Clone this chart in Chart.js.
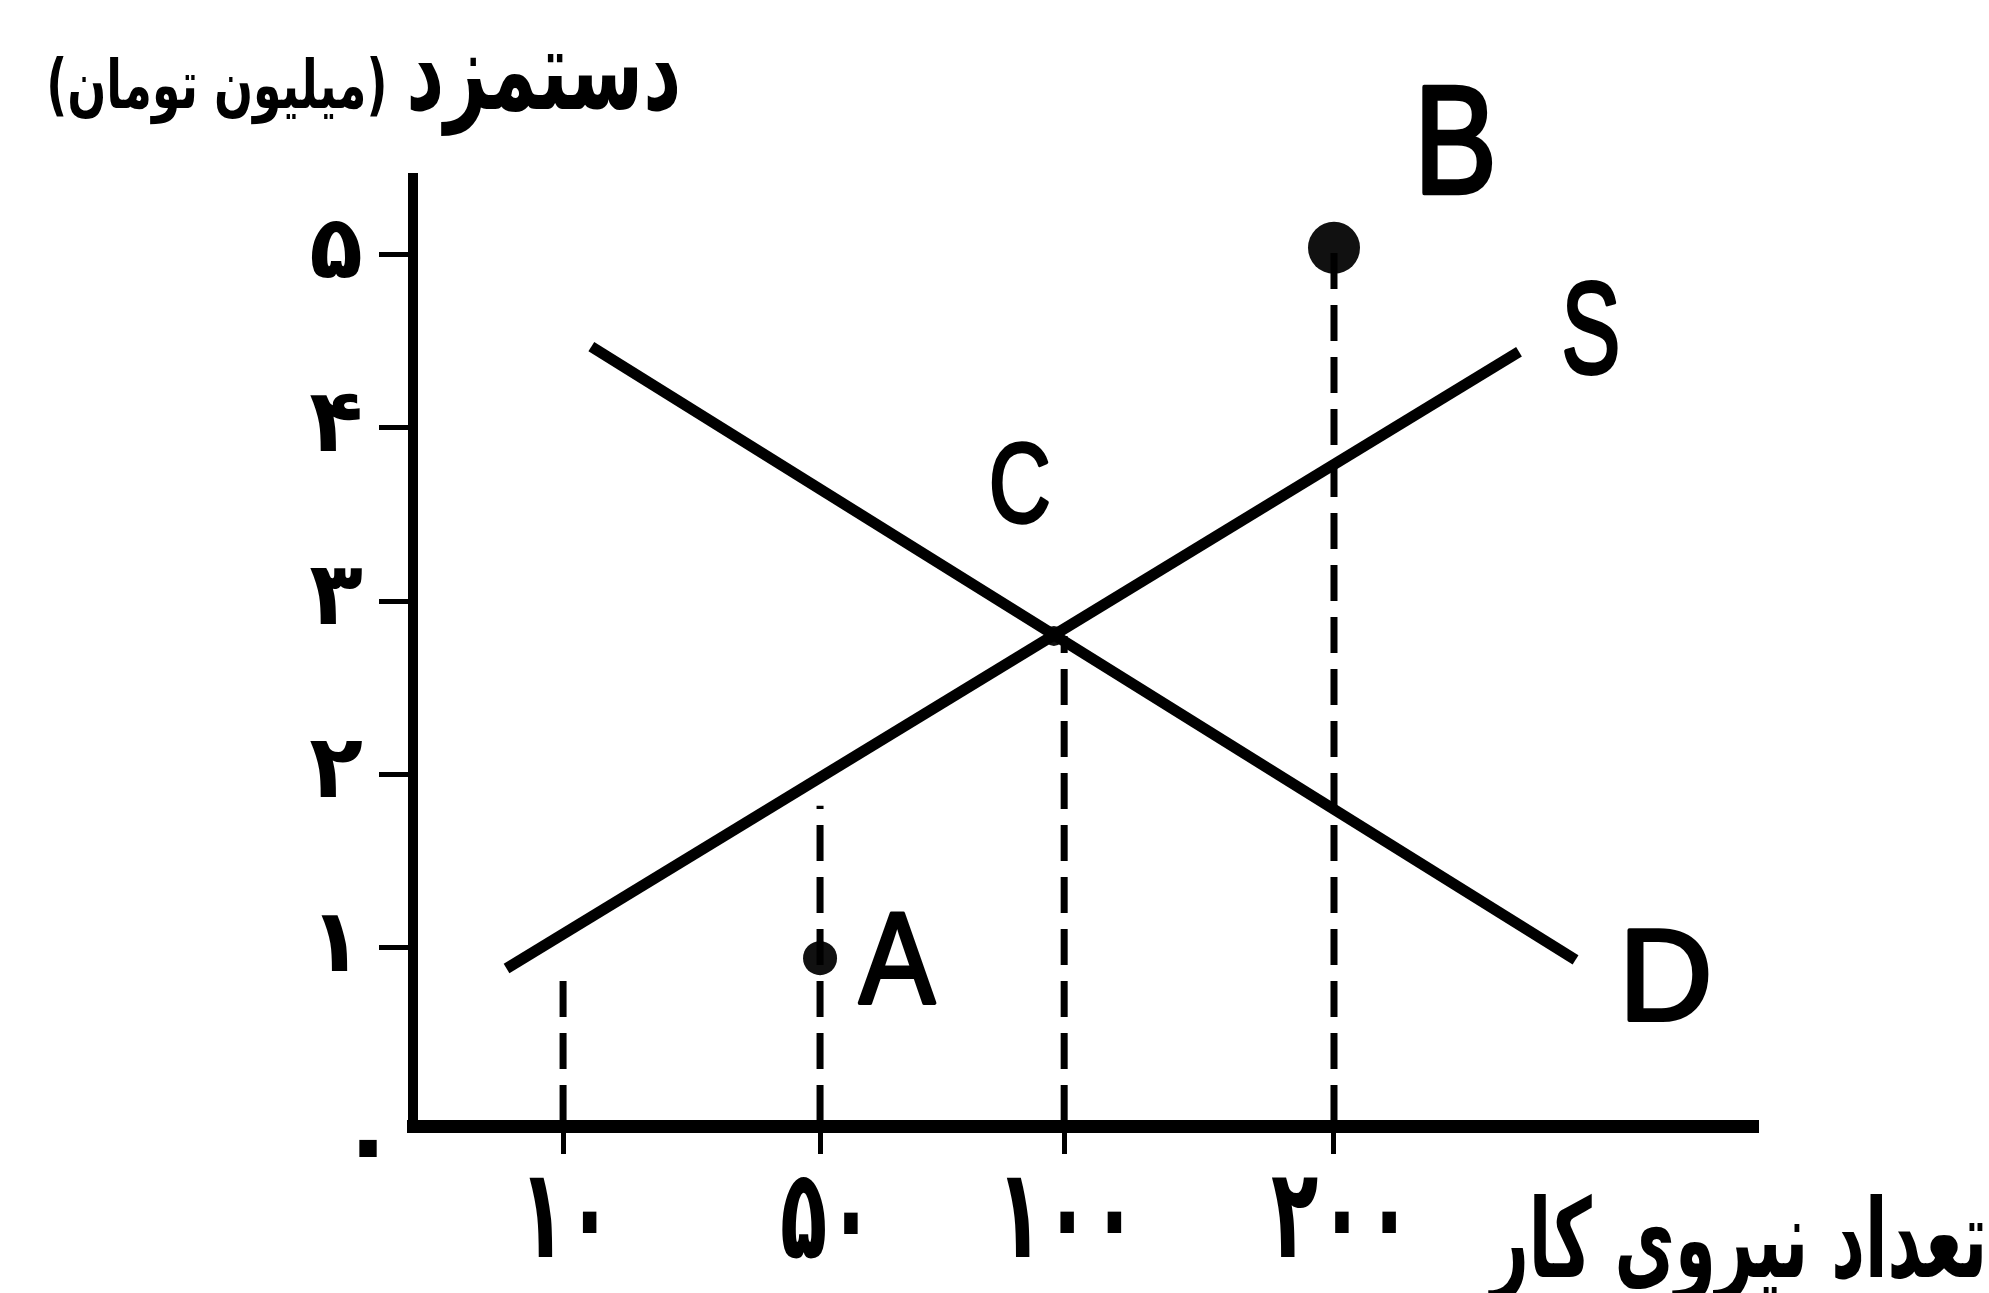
<!DOCTYPE html>
<html>
<head>
<meta charset="utf-8">
<script src="https://cdn.jsdelivr.net/npm/chart.js@4.4.1/dist/chart.umd.min.js"></script>
<style>
  html, body { margin: 0; padding: 0; background: #fff; }
  canvas { display: block; }
</style>
</head>
<body>
<canvas id="wageChart" width="1989" height="1293"></canvas>
<script>
// axis ticks (x ticks are not evenly spaced in value, so they sit on positions)
const xTickLabels = ['۱۰', '۵۰', '۱۰۰', '۲۰۰'];
const xTickPos = [1, 2, 2.95, 4];
const yTickValues = [1, 2, 3, 4, 5];
const yTickLabels = ['۱', '۲', '۳', '۴', '۵'];
const originLabel = '۰';

// supply (S) and demand (D) end points
const supplyX = [0.78, 4.72];
const supplyY = [0.88, 4.44];
const demandX = [1.11, 4.94];
const demandY = [4.47, 0.93];

// dashed guides from the x axis up
const guideX = [1, 2, 2.95, 4];
const guideTop = [0.9, 1.82, 2.8, 5.04];

// marked points A, B and the crossing
const dotX = [2, 4, 2.91];
const dotY = [0.94, 5.04, 2.8];
const dotSize = [17, 26, 10];

const yTitle = 'دستمزد';
const yTitleUnit = '(میلیون تومان)';
const xTitle = 'تعداد نیروی کار';

// letter labels: centre in chart units, ink size in px
const letters = [
    { text: 'B', x: 4.48, y: 5.66, w: 67, h: 106 },
    { text: 'S', x: 5.0, y: 4.58, w: 52, h: 93 },
    { text: 'C', x: 2.78, y: 3.68, w: 55, h: 80 },
    { text: 'D', x: 5.3, y: 0.84, w: 78, h: 90 },
    { text: 'A', x: 2.3, y: 0.94, w: 76, h: 90 }
];

const persianFont = "'DejaVu Sans', 'Noto Sans', sans-serif";
const latinFont = "'Liberation Sans', Arial, sans-serif";

function toPoints(xs, ys) {
    return xs.map((x, i) => ({ x: x, y: ys[i] }));
}

// draw text so that its ink fills the box x0..x1, y0..y1
function fitBox(ctx, text, font, x0, x1, y0, y1, rtl, stroke) {
    ctx.save();
    ctx.font = font;
    ctx.direction = rtl ? 'rtl' : 'ltr';
    ctx.textAlign = 'left';
    ctx.textBaseline = 'alphabetic';
    const m = ctx.measureText(text);
    const sx = (x1 - x0) / (m.actualBoundingBoxLeft + m.actualBoundingBoxRight);
    const sy = (y1 - y0) / (m.actualBoundingBoxAscent + m.actualBoundingBoxDescent);
    ctx.translate(x0 + m.actualBoundingBoxLeft * sx, y0 + m.actualBoundingBoxAscent * sy);
    ctx.scale(sx, sy);
    ctx.fillText(text, 0, 0);
    if (stroke) {
        ctx.strokeStyle = ctx.fillStyle;
        ctx.lineWidth = stroke;
        ctx.lineJoin = 'round';
        ctx.strokeText(text, 0, 0);
    }
    ctx.restore();
}

// same but the height is set by top of ink and the baseline
function fitAscent(ctx, text, font, x0, x1, top, baseline) {
    ctx.save();
    ctx.font = font;
    ctx.direction = 'rtl';
    ctx.textAlign = 'left';
    ctx.textBaseline = 'alphabetic';
    const m = ctx.measureText(text);
    const sx = (x1 - x0) / (m.actualBoundingBoxLeft + m.actualBoundingBoxRight);
    const sy = (baseline - top) / m.actualBoundingBoxAscent;
    ctx.translate(x0 + m.actualBoundingBoxLeft * sx, baseline);
    ctx.scale(sx, sy);
    ctx.fillText(text, 0, 0);
    ctx.restore();
}

// text centred on cx, ink top at `top`, squeezed by sx
function drawInk(ctx, text, font, cx, top, sx) {
    ctx.save();
    ctx.font = font;
    ctx.textAlign = 'left';
    ctx.textBaseline = 'alphabetic';
    const m = ctx.measureText(text);
    const mid = (m.actualBoundingBoxRight - m.actualBoundingBoxLeft) / 2;
    ctx.translate(cx - mid * sx, top + m.actualBoundingBoxAscent);
    ctx.scale(sx, 1);
    ctx.fillText(text, 0, 0);
    ctx.restore();
}

const annotate = {
    id: 'annotate',
    afterDatasetsDraw(chart) {
        const { ctx, scales } = chart;
        ctx.save();
        ctx.fillStyle = '#000';

        letters.forEach(l => {
            const px = scales.x.getPixelForValue(l.x);
            const py = scales.y.getPixelForValue(l.y);
            fitBox(ctx, l.text, '100px ' + latinFont,
                px - l.w / 2, px + l.w / 2, py - l.h / 2, py + l.h / 2, false, 3);
        });

        // x tick labels, tall and narrow
        ctx.font = 'bold 100px ' + persianFont;
        const one = ctx.measureText('۱');
        const digitSize = 100 * 80 / (one.actualBoundingBoxAscent + one.actualBoundingBoxDescent);
        const digitFont = 'bold ' + digitSize.toFixed(1) + 'px ' + persianFont;
        const labelTop = scales.y.getPixelForValue(0) + 56;
        scales.x.ticks.forEach((t, i) => {
            drawInk(ctx, xTickLabels[i], digitFont, scales.x.getPixelForValue(t.value), labelTop, 0.62);
        });

        // origin zero, below left of the corner
        const zeroFont = 'bold ' + (digitSize * 0.8).toFixed(1) + 'px ' + persianFont;
        ctx.font = zeroFont;
        const z = ctx.measureText(originLabel);
        const zh = z.actualBoundingBoxAscent + z.actualBoundingBoxDescent;
        drawInk(ctx, originLabel, zeroFont, scales.x.left - 45,
            scales.y.getPixelForValue(0) + 27 - zh / 2, 1);

        fitBox(ctx, yTitle, 'bold 60px ' + persianFont, 410, 679, 53, 137, true);
        fitBox(ctx, yTitleUnit, 'bold 60px ' + persianFont, 50, 384, 57, 125, true);
        fitAscent(ctx, xTitle, 'bold 90px ' + persianFont, 1488, 1983, 1193, 1277);

        ctx.restore();
    }
};

const lineStyle = {
    showLine: true,
    borderColor: '#000',
    borderWidth: 11,
    pointRadius: 0,
    borderCapStyle: 'butt',
    clip: false
};

const guideSets = guideX.map((gx, i) => ({
    data: [{ x: gx, y: 0 }, { x: gx, y: guideTop[i] }],
    showLine: true,
    borderColor: '#000',
    borderWidth: 7,
    borderDash: [36, 16],
    pointRadius: 0,
    clip: false
}));

const ctx = document.getElementById('wageChart').getContext('2d');

new Chart(ctx, {
    type: 'scatter',
    data: {
        datasets: [
            Object.assign({ data: toPoints(supplyX, supplyY) }, lineStyle),
            Object.assign({ data: toPoints(demandX, demandY) }, lineStyle),
            ...guideSets,
            {
                data: toPoints(dotX, dotY),
                pointRadius: dotSize,
                pointBackgroundColor: '#111',
                pointBorderWidth: 0,
                showLine: false,
                clip: false
            }
        ]
    },
    options: {
        responsive: false,
        animation: false,
        layout: {
            padding: { top: 178, right: 231, bottom: 0, left: 0 }
        },
        plugins: {
            legend: { display: false },
            tooltip: { enabled: false }
        },
        scales: {
            x: {
                type: 'linear',
                min: 0.416,
                max: 5.65,
                afterBuildTicks: s => { s.ticks = xTickPos.map(v => ({ value: v })); },
                afterFit: s => { s.height = 1293 - 1126; },
                border: { display: true, color: '#000', width: 13 },
                grid: {
                    drawOnChartArea: false,
                    drawTicks: true,
                    tickLength: 28,
                    tickWidth: 5,
                    tickColor: '#000'
                },
                ticks: { display: false }
            },
            y: {
                type: 'linear',
                min: -0.029,
                max: 5.443,
                afterBuildTicks: s => { s.ticks = yTickValues.map(v => ({ value: v })); },
                afterFit: s => { s.width = 413; },
                border: { display: true, color: '#000', width: 10 },
                grid: {
                    drawOnChartArea: false,
                    drawTicks: true,
                    tickLength: 34,
                    tickWidth: 5,
                    tickColor: '#000'
                },
                ticks: {
                    color: '#000',
                    padding: 16,
                    font: { family: persianFont, size: 88, weight: 'bold' },
                    callback: (v, i) => yTickLabels[i]
                }
            }
        }
    },
    plugins: [annotate]
});
</script>
</body>
</html>
